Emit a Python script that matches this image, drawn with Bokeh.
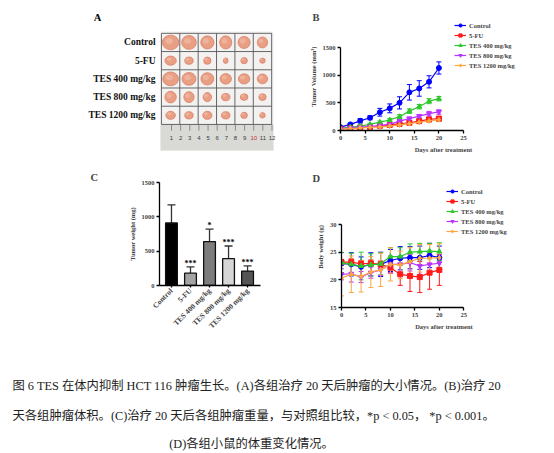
import math
from bokeh.plotting import figure
from bokeh.layouts import column, row
from bokeh.models import (ColumnDataSource, Whisker, TeeHead, Legend, LegendItem,
                          FixedTicker, Title, Spacer)
from bokeh.core.properties import value
from bokeh.embed import file_html
from bokeh.resources import INLINE

SERIF = "Liberation Serif"

# ---- data ----
groups = ["Control", "5-FU", "TES 400 mg/kg", "TES 800 mg/kg", "TES 1200 mg/kg"]
group_colors = ["#0000ff", "#ff1a1a", "#2ec72e", "#b833ff", "#ffa640"]
group_markers = ["circle", "square", "triangle", "inverted_triangle", "diamond"]

# A: tumour sizes in the photo (cell units), one row per group
tumor_w = [
    [0.90, 0.80, 0.72, 0.66, 0.66, 0.56],
    [0.62, 0.46, 0.40, 0.26, 0.36, 0.30],
    [0.86, 0.76, 0.70, 0.62, 0.62, 0.56],
    [0.62, 0.56, 0.46, 0.46, 0.42, 0.40],
    [0.52, 0.46, 0.50, 0.46, 0.36, 0.30],
]
tumor_h = [
    [0.80, 0.76, 0.72, 0.72, 0.66, 0.60],
    [0.50, 0.40, 0.40, 0.30, 0.34, 0.28],
    [0.76, 0.70, 0.68, 0.58, 0.56, 0.54],
    [0.64, 0.60, 0.50, 0.40, 0.36, 0.38],
    [0.44, 0.40, 0.44, 0.40, 0.34, 0.30],
]
ruler_numbers = [str(k) for k in range(1, 13)]

# B: tumour volume (mm3)
days = [0, 2, 4, 6, 8, 10, 12, 14, 16, 18, 20]
vol_control = [60, 110, 175, 230, 330, 400, 500, 690, 760, 880, 1130]
vol_control_err = [15, 20, 40, 35, 70, 80, 110, 140, 140, 110, 110]
vol_5fu = [30, 40, 55, 65, 85, 100, 120, 140, 170, 200, 215]
vol_5fu_err = [8, 10, 12, 15, 18, 20, 25, 30, 35, 40, 40]
vol_tes400 = [40, 60, 80, 110, 150, 190, 250, 350, 430, 530, 575]
vol_tes400_err = [10, 12, 15, 18, 20, 25, 35, 40, 40, 45, 40]
vol_tes800 = [35, 45, 55, 70, 90, 110, 170, 215, 260, 305, 335]
vol_tes800_err = [10, 10, 12, 15, 18, 20, 25, 30, 30, 40, 40]
vol_tes1200 = [25, 35, 45, 55, 65, 80, 100, 125, 150, 175, 195]
vol_tes1200_err = [8, 8, 10, 12, 15, 15, 18, 20, 25, 25, 30]

# C: tumour weight (mg)
weight_mean = [910, 180, 640, 390, 210]
weight_err = [265, 90, 180, 185, 75]
weight_sig = ["", "***", "*", "***", "***"]
bar_colors = ["#000000", "#a3a3a3", "#7d7d7d", "#d6d6d6", "#555555"]

# D: body weight (g)
bw_control = [22.95, 22.8, 22.35, 22.8, 22.8, 23.5, 23.9, 24.0, 24.0, 24.4, 24.0]
bw_control_err = [2.0, 2.1, 1.8, 2.1, 2.2, 2.0, 2.1, 2.0, 2.1, 2.2, 2.1]
bw_5fu = [23.2, 23.2, 22.9, 23.0, 22.8, 22.2, 21.0, 20.7, 20.5, 21.3, 21.8]
bw_5fu_err = [0.5, 0.6, 0.6, 0.6, 0.6, 1.0, 2.0, 2.8, 2.8, 3.0, 2.8]
bw_tes400 = [23.1, 22.8, 22.5, 22.7, 22.9, 24.2, 24.2, 25.0, 25.1, 25.2, 25.1]
bw_tes400_err = [1.8, 2.0, 2.5, 2.0, 2.0, 1.6, 1.6, 1.5, 1.5, 1.4, 1.6]
bw_tes800 = [21.0, 21.1, 20.5, 21.3, 21.8, 22.8, 22.8, 23.1, 22.5, 22.8, 23.0]
bw_tes800_err = [1.0, 1.5, 1.0, 1.0, 1.0, 1.5, 1.5, 1.5, 1.5, 1.5, 1.5]
bw_tes1200 = [20.3, 21.0, 20.6, 21.4, 21.8, 22.8, 22.7, 23.3, 23.9, 23.9, 24.0]
bw_tes1200_err = [3.2, 3.3, 2.8, 2.8, 3.0, 3.0, 2.5, 2.5, 2.5, 2.5, 2.5]

caption_lines = [
    "图 6 TES 在体内抑制 HCT 116 肿瘤生长。(A)各组治疗 20 天后肿瘤的大小情况。(B)治疗 20",
    "天各组肿瘤体积。(C)治疗 20 天后各组肿瘤重量，与对照组比较，*p < 0.05，  *p < 0.001。",
    "(D)各组小鼠的体重变化情况。",
]


def make_fig(**kw):
    p = figure(toolbar_location=None, output_backend="svg", title=None, **kw)
    p.frame_align = False
    p.grid.visible = False
    p.outline_line_color = None
    return p


def style_axes(p):
    for ax in p.axis:
        ax.axis_line_width = 1.3
        ax.major_tick_line_width = 1.3
        ax.major_tick_out = 3
        ax.major_tick_in = 0
        ax.minor_tick_line_color = None
        ax.major_label_text_font = SERIF
        ax.major_label_text_font_style = "bold"
        ax.major_label_text_font_size = "6.5px"
        ax.axis_label_text_font = SERIF
        ax.axis_label_text_font_style = "bold"
        ax.axis_label_text_font_size = "6.5px"
        ax.major_label_standoff = 2
        ax.axis_label_standoff = 3


def panel_letter(p, text, offset, standoff=0):
    p.add_layout(Title(text=text, align="left", offset=offset, standoff=standoff,
                       vertical_align="bottom", text_font=SERIF, text_font_style="bold",
                       text_font_size="10.5px"), "above")


def add_series(p, ys, errs, color, marker, label):
    src = ColumnDataSource(dict(x=days, y=ys,
                                lo=[a - b for a, b in zip(ys, errs)],
                                hi=[a + b for a, b in zip(ys, errs)]))
    p.add_layout(Whisker(base="x", lower="lo", upper="hi", source=src,
                         line_color=color, line_width=1,
                         upper_head=TeeHead(size=5, line_color=color, line_width=1),
                         lower_head=TeeHead(size=5, line_color=color, line_width=1)))
    ln = p.line("x", "y", source=src, line_color=color, line_width=1.2)
    pts = p.scatter("x", "y", source=src, marker=marker, size=5,
                    fill_color=color, line_color=color)
    return LegendItem(label=label, renderers=[ln, pts])


def add_legend(p, items, loc):
    leg = Legend(items=items, location=loc, glyph_width=12, glyph_height=8,
                 label_height=8, label_standoff=3, spacing=2, padding=0, margin=0,
                 border_line_color=None, background_fill_alpha=0,
                 label_text_font=SERIF, label_text_font_style="bold",
                 label_text_font_size="6.5px")
    p.add_layout(leg)


# ---- A: tumour photo (frame covers the whole panel) ----
n_rows, n_cols = len(tumor_w), len(tumor_w[0])
px0, px1, py0, py1 = -0.05, 6.1, -1.43, 5.1          # photo edges
pA = make_fig(width=292, height=157, min_border=0,
              x_range=(-8.322, 7.569), y_range=(-2.253, 6.362),
              x_axis_location=None, y_axis_location=None)
pA.quad(left=px0, right=px1, bottom=py0, top=py1, fill_color="#f3f2f0", line_color=None)
pA.quad(left=px0, right=px1, bottom=py0, top=0, fill_color="#d9dad5", line_color=None)
pA.multi_line(xs=[[c, c] for c in range(n_cols + 1)], ys=[[0, n_rows]] * (n_cols + 1),
              line_color="#55575a", line_width=0.9)
pA.multi_line(xs=[[0, n_cols]] * (n_rows + 1), ys=[[r, r] for r in range(n_rows + 1)],
              line_color="#55575a", line_width=0.9)
tx, ty, tw, th = [], [], [], []
for r in range(n_rows):
    for c in range(n_cols):
        tx.append(c + 0.5)
        ty.append(n_rows - r - 0.5)
        tw.append(tumor_w[r][c])
        th.append(tumor_h[r][c])
pA.ellipse(x=tx, y=ty, width=tw, height=th, fill_color="#e99f84",
           line_color="#d9806a", line_width=0.8)
pA.ellipse(x=[v - 0.08 for v in tx], y=[v + 0.08 for v in ty],
           width=[v * 0.45 for v in tw], height=[v * 0.4 for v in th],
           fill_color="#f3c2ad", line_color=None, fill_alpha=0.6)
ruler_x = [0.55 + k * 0.497 for k in range(len(ruler_numbers))]
pA.segment(x0=ruler_x, x1=ruler_x, y0=[0] * len(ruler_x), y1=[-0.35] * len(ruler_x),
           line_color="#6d6d6d", line_width=0.7)
pA.text(x=ruler_x, y=[-0.72] * len(ruler_x), text=ruler_numbers,
        text_color=["#c0303a" if t == "10" else "#3b3b3b" for t in ruler_numbers],
        text_font_size="6px", text_align="center", text_baseline="middle",
        text_font=value("Liberation Sans"))
pA.text(x=[-0.32] * n_rows, y=[n_rows - i - 0.5 for i in range(n_rows)], text=groups,
        text_align="right", text_baseline="middle", text_font=value(SERIF),
        text_font_style="bold", text_font_size="9.5px", text_color="#111111")
pA.text(x=[-3.48], y=[5.87], text=["A"], text_align="center", text_baseline="middle",
        text_font=value(SERIF), text_font_style="bold", text_font_size="10.5px")

# ---- B: tumour volume ----
pB = make_fig(frame_width=206, frame_height=108, x_range=(0, 41.87), y_range=(0, 1952),
              min_border_left=40, min_border_right=0, min_border_top=14, min_border_bottom=35)
vol_series = [(vol_control, vol_control_err), (vol_5fu, vol_5fu_err),
              (vol_tes400, vol_tes400_err), (vol_tes800, vol_tes800_err),
              (vol_tes1200, vol_tes1200_err)]
items = [add_series(pB, ys, es, col, mk, g) for (ys, es), col, mk, g
         in zip(vol_series, group_colors, group_markers, groups)]
pB.xaxis.ticker = FixedTicker(ticks=[0, 5, 10, 15, 20, 25])
pB.yaxis.ticker = FixedTicker(ticks=[0, 500, 1000, 1500])
pB.xaxis.bounds = (0, 25)
pB.yaxis.bounds = (0, 1500)
pB.xaxis.axis_label = "Days after treatment"
pB.yaxis.axis_label = "Tumor Volume (mm³)"
style_axes(pB)
add_legend(pB, items, (114, 61))
panel_letter(pB, "B", -28)

# ---- C: tumour weight ----
bar_x = list(range(1, len(groups) + 1))
pC = make_fig(frame_width=101, frame_height=103, x_range=(0.37, 5.68), y_range=(0, 1500),
              min_border_left=151, min_border_right=40, min_border_top=17, min_border_bottom=45)
csrc = ColumnDataSource(dict(x=bar_x, top=weight_mean, color=bar_colors, sig=weight_sig,
                             up=[m + e for m, e in zip(weight_mean, weight_err)]))
pC.add_layout(Whisker(base="x", lower="top", upper="up", source=csrc, line_color="#333333",
                      line_width=1.3, lower_head=None,
                      upper_head=TeeHead(size=8, line_color="#333333", line_width=1.3)))
pC.vbar(x="x", top="top", width=0.62, source=csrc, fill_color="color",
        line_color="#111111", line_width=1.3)
pC.text(x="x", y="up", text="sig", source=csrc, text_align="center", text_baseline="bottom",
        y_offset=1, text_font_size="8px", text_font=value(SERIF), text_font_style="bold")
pC.xaxis.ticker = FixedTicker(ticks=bar_x)
pC.xaxis.major_label_overrides = {x: g for x, g in zip(bar_x, groups)}
pC.yaxis.ticker = FixedTicker(ticks=[0, 500, 1000, 1500])
pC.yaxis.axis_label = "Tumor weight (mg)"
style_axes(pC)
pC.xaxis.major_label_orientation = math.pi / 4
pC.xaxis.major_label_text_font_size = "7.5px"
pC.xaxis.major_tick_out = 2
panel_letter(pC, "C", -69)

# ---- D: body weight ----
pD = make_fig(frame_width=205, frame_height=121, x_range=(0, 41.9), y_range=(15, 36.87),
              min_border_left=41, min_border_right=0, min_border_top=21, min_border_bottom=23)
bw_series = [(bw_control, bw_control_err), (bw_5fu, bw_5fu_err),
             (bw_tes400, bw_tes400_err), (bw_tes800, bw_tes800_err),
             (bw_tes1200, bw_tes1200_err)]
items = [add_series(pD, ys, es, col, mk, g) for (ys, es), col, mk, g
         in zip(bw_series, group_colors, group_markers, groups)]
pD.xaxis.ticker = FixedTicker(ticks=[0, 5, 10, 15, 20, 25])
pD.yaxis.ticker = FixedTicker(ticks=[15, 20, 25, 30])
pD.xaxis.bounds = (0, 25)
pD.yaxis.bounds = (15, 30)
pD.xaxis.axis_label = "Days after treatment"
pD.yaxis.axis_label = "Body weight (g)"
style_axes(pD)
add_legend(pD, items, (105, 72))
panel_letter(pD, "D", -29, standoff=6)

# ---- caption ----
pT = make_fig(width=538, height=115, x_range=(0, 538), y_range=(0, 115), min_border=0,
              x_axis_location=None, y_axis_location=None)
pT.text(x=[4, 4, 243], y=[66, 36, 8], text=caption_lines,
        text_align=["left", "left", "center"], text_baseline="middle",
        text_font=value("Liberation Serif, Noto Sans CJK SC"), text_font_size="12.3px",
        text_color="#222222")

content = column(row(pA, pB), row(pC, pD), pT)
layout = column(Spacer(height=8), row(Spacer(width=8), content))
open("out.html", "w").write(file_html(layout, INLINE))
